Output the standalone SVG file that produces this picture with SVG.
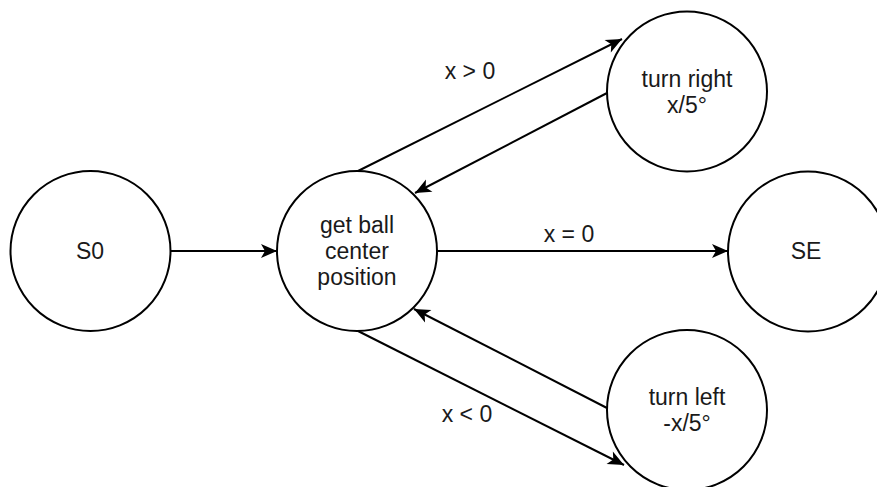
<svg xmlns="http://www.w3.org/2000/svg" width="877" height="487" viewBox="0 0 877 487">
<defs>
<style>
.node{fill:#ffffff;stroke:#000000;stroke-width:2}
.lbl{font-family:"Liberation Sans",Arial,sans-serif;font-size:23px;fill:#1a1a1a;text-anchor:middle}
.edge{stroke:#000000;stroke-width:2;fill:none}
</style>
<marker id="arr" markerUnits="userSpaceOnUse" markerWidth="20" markerHeight="16" viewBox="0 0 20 16" refX="18" refY="8" orient="auto">
<path d="M2,1 L18,8 L2,15 L6,8 Z" fill="#000000"/>
</marker>
</defs>
<rect width="877" height="487" fill="#ffffff"/>
<g id="connectors">
<line class="edge" x1="171" y1="251" x2="277" y2="251" marker-end="url(#arr)"/>
<line class="edge" x1="437" y1="251" x2="728" y2="251" marker-end="url(#arr)"/>
<line class="edge" x1="358" y1="171" x2="622" y2="39" marker-end="url(#arr)"/>
<line class="edge" x1="607" y1="93" x2="415" y2="193" marker-end="url(#arr)"/>
<line class="edge" x1="358" y1="331" x2="624" y2="465" marker-end="url(#arr)"/>
<line class="edge" x1="607" y1="408" x2="414" y2="309" marker-end="url(#arr)"/>
<text class="lbl" x="470" y="79">x &gt; 0</text>
<text class="lbl" x="569" y="242">x = 0</text>
<text class="lbl" x="467" y="422">x &lt; 0</text>
</g>
<g id="s0">
<circle class="node" cx="90.5" cy="251" r="80"/>
<text class="lbl" x="90" y="259">S0</text>
</g>
<g id="getball">
<circle class="node" cx="357" cy="251" r="80"/>
<text class="lbl" x="357" y="233">get ball</text>
<text class="lbl" x="357" y="259">center</text>
<text class="lbl" x="357" y="285">position</text>
</g>
<g id="turnright">
<circle class="node" cx="687" cy="91.5" r="80"/>
<text class="lbl" x="687" y="87">turn right</text>
<text class="lbl" x="687" y="113">x/5°</text>
</g>
<g id="se">
<circle class="node" cx="808" cy="251.5" r="80"/>
<text class="lbl" x="806" y="259">SE</text>
</g>
<g id="turnleft">
<circle class="node" cx="687" cy="410" r="80"/>
<text class="lbl" x="687" y="405">turn left</text>
<text class="lbl" x="687" y="431">-x/5°</text>
</g>
</svg>
